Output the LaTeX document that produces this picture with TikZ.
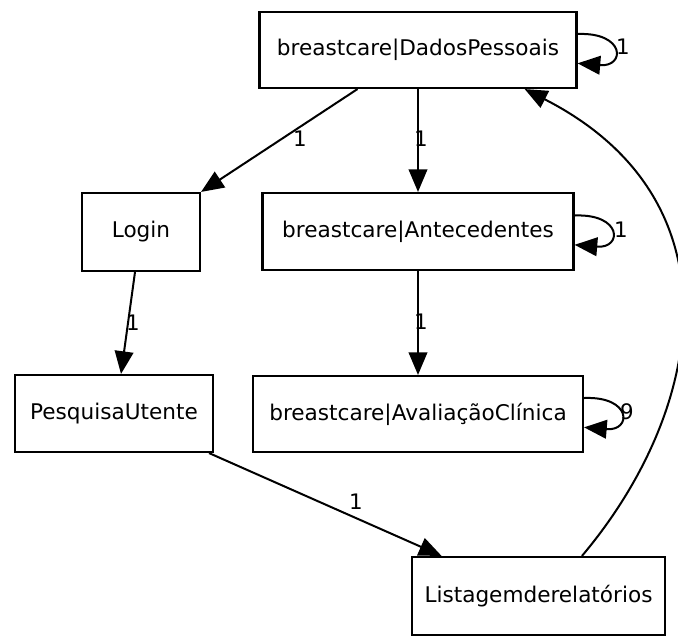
\documentclass[tikz,border=0pt]{standalone}
\usepackage{fontspec}
\setmainfont{DejaVu Sans}
\usetikzlibrary{arrows.meta}
\begin{document}
\begin{tikzpicture}[x=0.75pt, y=-0.75pt,
  state/.style={draw, line width=1.6pt, fill=white, inner sep=0pt,
    font=\fontsize{16.2}{19}\selectfont},
  flow/.style={draw, line width=1.5pt,
    -{Triangle[length=17pt, width=14pt]}},
  lbl/.style={font=\fontsize{16}{18}\selectfont, inner sep=0pt}]
  \useasboundingbox[fill=white] (0,0) rectangle (678,637);

  % states
  \node[state, minimum width=317*0.75pt, minimum height=76*0.75pt] (dp) at (418,50) {breastcare|DadosPessoais};
  \node[state, minimum width=311*0.75pt, minimum height=77*0.75pt] (an) at (418,231.5) {breastcare|Antecedentes};
  \node[state, minimum width=330*0.75pt, minimum height=76*0.75pt] (av) at (418,414) {breastcare|AvaliaçãoClínica};
  \node[state, minimum width=118*0.75pt, minimum height=78*0.75pt] (lg) at (141,232) {Login};
  \node[state, minimum width=198*0.75pt, minimum height=77*0.75pt] (pu) at (114,413.5) {PesquisaUtente};
  \node[state, minimum width=253*0.75pt, minimum height=78*0.75pt] (li) at (538.5,596) {Listagemderelatórios};

  % transitions
  \draw[flow] ([xshift=-45.4pt]dp.south) -- (lg.north east);
  \draw[flow] (dp.south) -- (an.north);
  \draw[flow] (an.south) -- (av.north);
  \draw[flow] ([xshift=-4.5pt]lg.south) -- ([xshift=5.25pt]pu.north);
  \draw[flow] ([xshift=-3.75pt]pu.south east) -- ([xshift=23pt]li.north west);
  \draw[flow] ([xshift=32.6pt]li.north) .. controls (705,410) and (742,200) .. ([xshift=80pt]dp.south);

  % self loops
  \draw[flow] ([yshift=12pt]dp.east) .. controls +(48,-2) and +(48,4) .. ([yshift=-10pt]dp.east);
  \draw[flow] ([yshift=12pt]an.east) .. controls +(48,-2) and +(48,4) .. ([yshift=-10pt]an.east);
  \draw[flow] ([yshift=12pt]av.east) .. controls +(48,-2) and +(48,4) .. ([yshift=-10pt]av.east);

  % transition counts
  \node[lbl] (l1) at (300,139) {1};
  \node[lbl] (l2) at (421,139) {1};
  \node[lbl] (l3) at (623,47) {1};
  \node[lbl] (l4) at (621,230) {1};
  \node[lbl] (l5) at (421,322) {1};
  \node[lbl] (l6) at (627,412) {9};
  \node[lbl] (l7) at (133,323) {1};
  \node[lbl] (l8) at (356,502) {1};
\end{tikzpicture}
\end{document}
